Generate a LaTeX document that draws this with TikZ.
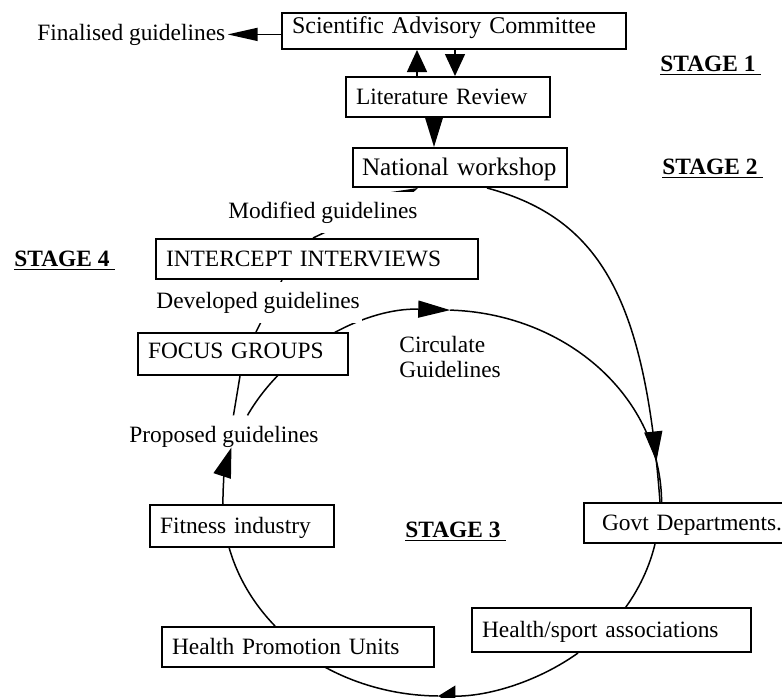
\documentclass[tikz,border=0pt]{standalone}
\usepackage{fontspec}
\setmainfont{Liberation Serif}
\usetikzlibrary{arrows.meta,calc,backgrounds,decorations.markings}

\begin{document}
\begin{tikzpicture}[
    x=0.5pt, y=0.5pt,
    box/.style={rectangle, draw, line width=1pt, fill=white, align=left, inner xsep=5pt, inner ysep=0pt, text height=8.5pt, text depth=1pt, font=\fontsize{11.7}{14}\selectfont},
    lbl/.style={fill=white, inner xsep=1pt, inner ysep=5pt, anchor=base west, font=\fontsize{11.7}{12.5}\selectfont},
    stage/.style={inner sep=0pt, anchor=base west, font=\fontsize{11.7}{14}\selectfont\bfseries},
    conn/.style={line width=0.75pt},
    arrow/.style={conn, -{Triangle[length=15pt,width=9pt]}},
    short arrow/.style={conn, -{Triangle[length=11pt,width=10pt]}}
  ]
    \useasboundingbox (0,0) rectangle (782,-697);

    % boxes
    \node[box, text width=162pt, minimum height=18pt, font=\fontsize{12}{14}\selectfont, text depth=6.5pt] (sac) at (454,-31) {Scientific Advisory Committee};
    \node[box, text width=92pt, minimum height=20pt] (lr) at (448,-97) {Literature Review};
    \node[box, text width=98pt, inner xsep=4.5pt, minimum height=19.5pt, font=\fontsize{12.6}{15}\selectfont] (nw) at (460,-167.5) {National workshop};
    \node[box, text width=151pt, minimum height=20pt] (ii) at (317,-259) {INTERCEPT INTERVIEWS};
    \node[box, text width=95pt, minimum height=21pt, text depth=4.5pt] (fg) at (243,-354) {FOCUS GROUPS};
    \node[box, text width=82pt, minimum height=21pt] (fit) at (242,-526) {Fitness industry};
    \node[box, text width=126pt, minimum height=20pt] (hpu) at (298,-647) {Health Promotion Units};
    \node[box, text width=129.5pt, minimum height=22pt] (hsa) at (611.5,-630) {Health/sport associations};
    \node[box, text width=95pt, inner xsep=9pt, minimum height=20pt] (govt) at (697,-523) {Govt Departments.};

    % labels
    \node[lbl] (final) at (35,-40) {Finalised guidelines};
    \node[lbl] (modified) at (226,-218) {Modified guidelines};
    \node[lbl] (developed) at (154,-308) {Developed guidelines};
    \node[lbl] (proposed) at (127,-442) {Proposed guidelines};
    \node[lbl, anchor=north west, inner ysep=1pt, align=left] (circulate) at (397,-334) {Circulate\\Guidelines};

    \node[stage] (stage1) at (660,-71.5) {\underline{STAGE 1\ }};
    \node[stage] (stage2) at (662,-174) {\underline{STAGE 2\ }};
    \node[stage] (stage4) at (14,-266) {\underline{STAGE 4\ }};
    \node[stage] (stage3) at (405,-537) {\underline{STAGE 3\ }};

    % connectors
    \begin{scope}[on background layer]
    \draw[conn, -{Triangle[length=15pt,width=6.5pt]}] (final.east -| sac.west) -- (final.east);
    \draw[short arrow] ($(lr.north)+(-31,0)$) -- ($(sac.south)+(-37,0)$);
    \draw[short arrow] ($(sac.south)+(1,0)$) -- ($(lr.north)+(7,0)$);
    \draw[arrow] ($(lr.south)+(-14,0)$) -- ($(nw.north)+(-26,0)$);
    \draw[arrow] ($(ii.north)+(-4,0)$) -- ($(nw.south)+(-42,0)$);
    \draw[conn] ($(fg.north)+(13,0)$) -- ($(ii.south)+(-35,0)$);
    \draw[conn] ($(proposed.north)+(9.5,0)$) -- ($(fg.south)+(-3,0)$);
    \draw[conn, postaction={decorate}, decoration={markings, mark=at position 0.895 with {\arrow{Triangle[length=15pt,width=9pt]}}}]
      ($(nw.south)+(27,0)$) .. controls +(116,-31) and +(-15,199) .. ($(govt.north)+(-37,0)$);
    % ring of stage 3
    \draw[conn, -{Triangle[length=16pt,width=8.5pt]}] ($(proposed.north)+(23.5,0)$) arc[start angle=153, end angle=88, x radius=219, y radius=193] coordinate (ctop);
    \draw[conn] (ctop) arc[start angle=88, end angle=-3, x radius=219, y radius=193];
    \draw[conn] ($(govt.south)+(-42,0)$) arc[start angle=-12, end angle=-36, x radius=219, y radius=193];
    \draw[conn, -{Triangle[length=8.5pt,width=10.5pt]}] ($(hsa.south)+(-33.5,0)$) arc[start angle=-51, end angle=-90.5, x radius=219, y radius=193] coordinate (cbot);
    \draw[conn] (cbot) arc[start angle=-90.5, end angle=-123, x radius=219, y radius=193];
    \draw[conn] ($(hpu.north)+(-23,0)$) arc[start angle=-139.5, end angle=-170, x radius=219, y radius=193];
    \end{scope}
    \draw[arrow] ($(fit.north)+(-19,0)$) arc[start angle=181, end angle=164, x radius=219, y radius=193];
  \end{tikzpicture}
\end{document}
